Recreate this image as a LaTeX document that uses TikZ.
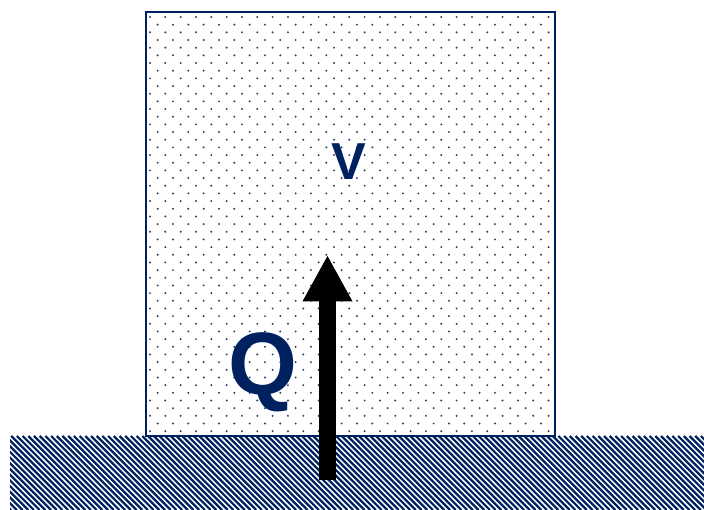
\documentclass[tikz,border=0pt]{standalone}
\usepackage{fontspec}
\setmainfont{Liberation Sans}
\usetikzlibrary{arrows.meta}
\definecolor{navy}{RGB}{0,33,96}
\definecolor{dotgrey}{RGB}{45,65,100}
\tikzset{
  wall/.style={draw=navy,line width=1.4pt},
  stripe/.style={draw=navy,line width=1.6pt},
  speck/.style={fill=dotgrey},
  flux/.style={-{Triangle[length=33pt,width=33pt]},line width=12pt,draw=black},
  tag/.style={text=navy,font=\bfseries,inner sep=0pt},
}
\begin{document}
\begin{tikzpicture}[x=0.025cm,y=-0.025cm]
  \useasboundingbox (0,0) rectangle (704,510);
  % hatched ground
  \begin{scope}
    \clip (10,436) coordinate (gnw) rectangle (704,510) coordinate (gse);
    \foreach \i in {-80,-74.3,...,710}
      \draw[stripe] (\i,436) -- ++(74,74);
  \end{scope}
  % dotted volume
  \begin{scope}
    \clip (146,12) rectangle (555,436);
    \foreach \r in {0,...,54}
      \foreach \c in {0,...,27}{
        \pgfmathsetmacro{\px}{150+15.33*\c+7.67*mod(\r,2)}
        \pgfmathsetmacro{\py}{17+7.67*\r}
        \fill[speck] (\px,\py) circle (1.1);
      }
  \end{scope}
  \draw[wall] (146,12) coordinate (bnw) rectangle (555,436) coordinate (bse);
  % labels
  \node[tag,font=\fontsize{37}{37}\selectfont\bfseries] (vol) at (349,162) {V};
  \node[tag,font=\fontsize{63}{63}\selectfont\bfseries] (heat) at (263,372) {Q};
  % heat flow
  \coordinate (base) at (327.5,480);
  \coordinate (tip) at (327.5,255);
  \draw[flux] (base) -- (tip);
\end{tikzpicture}
\end{document}
